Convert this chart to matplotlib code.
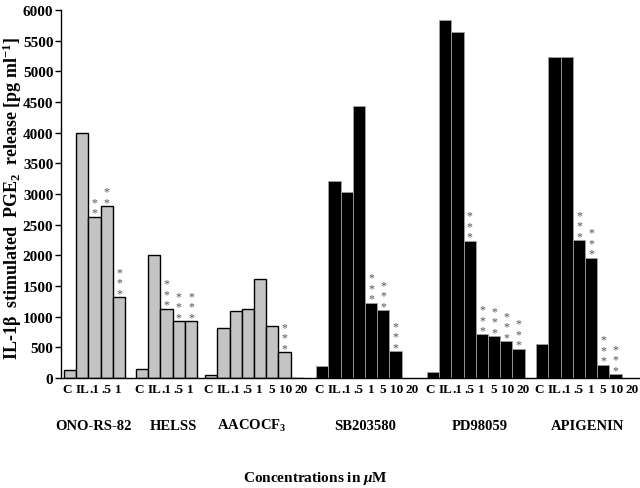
import matplotlib
matplotlib.use('Agg')
import matplotlib.pyplot as plt
import numpy as np

plt.rcParams['font.family'] = ['Liberation Serif', 'DejaVu Serif']
plt.rcParams['font.weight'] = 'bold'
plt.rcParams['mathtext.fontset'] = 'custom'
plt.rcParams['mathtext.rm'] = 'Liberation Serif:bold'
plt.rcParams['mathtext.bf'] = 'Liberation Serif:bold'
plt.rcParams['mathtext.it'] = 'Liberation Serif:bold:italic'

# ---- data ----
groups = ['ONO-RS-82', 'HELSS', 'AACOCF$_3$', 'SB203580', 'PD98059', 'APIGENIN']
short_labels = ['C', 'IL', '.1', '.5', '1']
long_labels = ['C', 'IL', '.1', '.5', '1', '5', '10', '20']

ono = [130, 4000, 2630, 2800, 1320]
helss = [150, 2000, 1130, 930, 930]
aacocf3 = [50, 820, 1090, 1130, 1620, 840, 420, 0]
sb203580 = [190, 3220, 3030, 4430, 1230, 1110, 440, 0]
pd98059 = [90, 5830, 5640, 2240, 710, 680, 600, 480]
apigenin = [560, 5230, 5230, 2250, 1960, 220, 60, 0]

ono_stars = [0, 0, 2, 2, 3]
helss_stars = [0, 0, 3, 3, 3]
aacocf3_stars = [0, 0, 0, 0, 0, 0, 3, 0]
sb203580_stars = [0, 0, 0, 0, 3, 3, 3, 0]
pd98059_stars = [0, 0, 0, 3, 3, 3, 3, 3]
apigenin_stars = [0, 0, 0, 3, 3, 3, 3, 0]

yticks = [0, 500, 1000, 1500, 2000, 2500, 3000, 3500, 4000, 4500, 5000, 5500, 6000]

# ---- layout ----
series = [ono, helss, aacocf3, sb203580, pd98059, apigenin]
star_series = [ono_stars, helss_stars, aacocf3_stars, sb203580_stars, pd98059_stars, apigenin_stars]
tick_sets = [short_labels, short_labels, long_labels, long_labels, long_labels, long_labels]
long_shift = [-0.22, -0.02, -0.02, -0.06, -0.02, -0.05, 0.1, 0.37]
short_shift = long_shift[:5]
shift_sets = [short_shift, short_shift, long_shift, long_shift, long_shift, long_shift]
group_gaps = [0.9, 0.66, 1.1, 1.09, 0.94]
group_label_shift = [-0.1, 0.6, -0.2, 0.0, 0.3, 0.2]
fills = ['#c4c4c4', '#c4c4c4', '#c4c4c4', 'black', 'black', 'black']
edges = ['black', 'black', 'black', '#a0a0a0', '#a0a0a0', '#a0a0a0']

fig = plt.figure(figsize=(6.4, 4.89), dpi=100)
ax = fig.add_axes([61/640, 110/489, 579/640, 368/489])

start = 0.0
tick_pos, tick_lab = [], []
for gi, vals in enumerate(series):
    xs = start + np.arange(len(vals))
    ax.bar(xs, vals, width=1.0, align='edge', color=fills[gi],
           edgecolor=edges[gi], linewidth=1.0 if gi < 3 else 0.6)
    centers = xs + 0.5
    for c, v, n in zip(centers, vals, star_series[gi]):
        for k in range(n):
            ax.annotate('*', xy=(c, v), xytext=(0, 1 + 10.5 * k), textcoords='offset pixels',
                        ha='center', va='baseline', fontsize=8.5, color='#505050',
                        fontweight='normal')
    tick_pos += list(centers + np.array(shift_sets[gi]))
    tick_lab += tick_sets[gi]
    gx = start + len(vals) / 2.0 + group_label_shift[gi]
    ax.text(gx, -0.128, groups[gi], transform=ax.get_xaxis_transform(),
            ha='center', va='center', fontsize=10.5, fontweight='bold')
    if gi < len(group_gaps):
        start = start + len(vals) + group_gaps[gi]

ax.set_xlim(-0.25, 47.2)
ax.set_ylim(0, 6000)
ax.set_yticks(yticks)
ax.set_yticklabels([str(t) for t in yticks], fontsize=11, fontweight='bold')
ax.set_xticks(tick_pos)
ax.set_xticklabels(tick_lab, fontsize=9.5, fontweight='bold')
ax.tick_params(axis='x', length=0, pad=3.5)
ax.tick_params(axis='y', direction='out', length=4, width=1, pad=1.5)
for s in ['top', 'right']:
    ax.spines[s].set_visible(False)
ax.spines['left'].set_linewidth(1.0)
ax.spines['bottom'].set_linewidth(1.0)

ax.text(0.44, -0.27, r'Concentrations in $\mathit{μ}$M', transform=ax.transAxes,
        ha='center', va='center', fontsize=11, fontweight='bold')
fig.text(12/640, 1 - 198/489, r'IL-1β  stimulated  PGE$_2$  release [pg ml$^{-1}$]',
         rotation=90, ha='center', va='center', fontsize=13, fontweight='bold')

fig.savefig('out.png', dpi=100)
